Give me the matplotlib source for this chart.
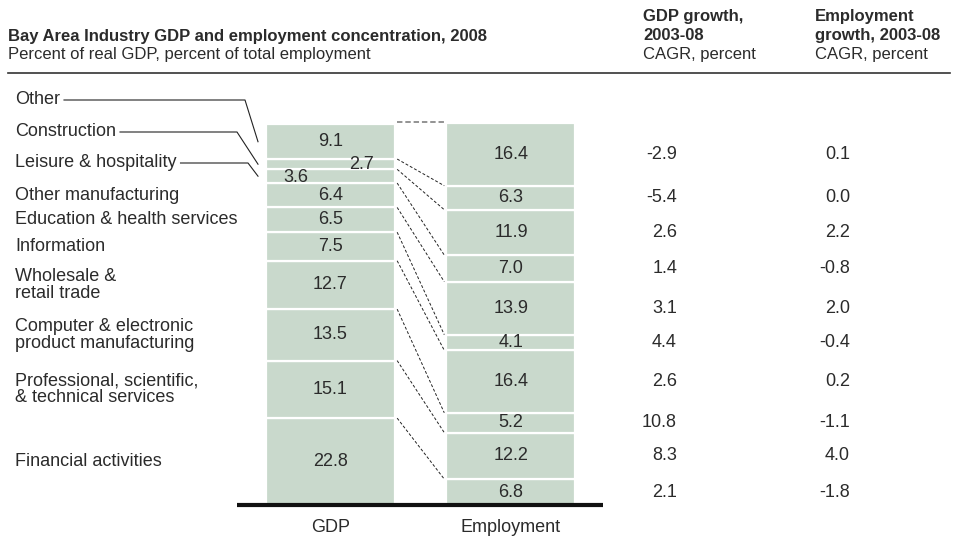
import matplotlib.pyplot as plt
import matplotlib.transforms as mtransforms
import numpy as np

plt.rcParams['font.family'] = ['Liberation Sans', 'DejaVu Sans']

# industries, bottom to top
industries = ["Financial activities",
              "Professional, scientific,\n& technical services",
              "Computer & electronic\nproduct manufacturing",
              "Wholesale &\nretail trade",
              "Information",
              "Education & health services",
              "Other manufacturing",
              "Leisure & hospitality",
              "Construction",
              "Other"]
gdp_share = [22.8, 15.1, 13.5, 12.7, 7.5, 6.5, 6.4, 3.6, 2.7, 9.1]
emp_share = [6.8, 12.2, 5.2, 16.4, 4.1, 13.9, 7.0, 11.9, 6.3, 16.4]
gdp_growth = [2.1, 8.3, 10.8, 2.6, 4.4, 3.1, 1.4, 2.6, -5.4, -2.9]
emp_growth = [-1.8, 4.0, -1.1, 0.2, -0.4, 2.0, -0.8, 2.2, 0.0, 0.1]
bar_names = ["GDP", "Employment"]

W, H = 955, 538
bar_col = "#c9d9cc"
txt = "#2b2b2b"
fs = 13
fs_head = 12

fig = plt.figure(figsize=(W / 100, H / 100), dpi=100)

def fx(px):
    return px / W

def fy(py):
    return 1 - py / H

# axes holds the two bars: spans baseline width, 0..100 vertically
ax = fig.add_axes([fx(237), fy(505), fx(603 - 237), (505 - 124) / H])
ax.set_xlim(-0.518, 1.51)
ax.set_ylim(0, 100)
ax.axis("off")

width = 0.715
gdp_bottom = np.concatenate([[0], np.cumsum(gdp_share)[:-1]])
emp_bottom = np.concatenate([[0], np.cumsum(emp_share)[:-1]])
gdp_top = gdp_bottom + np.array(gdp_share)
emp_top = emp_bottom + np.array(emp_share)

ax.bar(0, gdp_share, width, bottom=gdp_bottom, color=bar_col, edgecolor="white", linewidth=1.6)
ax.bar(1, emp_share, width, bottom=emp_bottom, color=bar_col, edgecolor="white", linewidth=1.6)

# value labels, small segments nudged aside
nudge = {7: (-0.19, -0.3), 8: (0.17, -0.1)}
for i, v in enumerate(gdp_share):
    dx, dy = nudge.get(i, (0, 0))
    ax.text(0 + dx, gdp_bottom[i] + v / 2 + dy, f"{v:.1f}", ha="center", va="center",
            fontsize=fs, color=txt, clip_on=False)
for i, v in enumerate(emp_share):
    ax.text(1, emp_bottom[i] + v / 2, f"{v:.1f}", ha="center", va="center",
            fontsize=fs, color=txt)

# connectors between segment tops
x0 = width / 2 + 0.012
x1 = 1 - width / 2 - 0.012
for i in range(len(gdp_share)):
    if i == len(gdp_share) - 1:
        ax.plot([x0, x1], [100.4, 100.4], color="#8a8a8a", lw=1.3,
                ls=(0, (3, 1.6)), clip_on=False)
    else:
        ax.plot([x0, x1], [gdp_top[i], emp_top[i]], color="#222222", lw=0.7,
                ls=(0, (3, 2)), clip_on=False)

# baseline
ax.plot([-0.518, 1.51], [0, 0], color="#111111", lw=3, clip_on=False,
        solid_capstyle="butt")

for i, name in enumerate(bar_names):
    ax.text(i, -5.8, name, ha="center", va="center", fontsize=fs, color=txt)

# industry labels on the left
lab_tr = mtransforms.blended_transform_factory(fig.transFigure, ax.transData)
leader = {9: 100, 8: 132, 7: 163}
leader_bend = {9: 245, 8: 237, 7: 248}
for i, name in enumerate(industries):
    mid = gdp_bottom[i] + gdp_share[i] / 2
    if i in leader:
        fig.text(fx(15), fy(leader[i]), name, ha="left", va="center", fontsize=fs,
                 color=txt)
    else:
        ax.text(fx(15), mid, name, transform=lab_tr, ha="left", va="center",
                fontsize=fs, color=txt, linespacing=0.95)

fig.canvas.draw()
inv = ax.transData.inverted()
for i, ypx in leader.items():
    mid = gdp_bottom[i] + gdp_share[i] / 2
    t = [tt for tt in fig.texts if tt.get_text() == industries[i]][0]
    bb = t.get_window_extent()
    xs_start = inv.transform((bb.x1 + 4, 0))[0]
    yline = inv.transform((0, H - ypx))[1]
    xb = inv.transform((leader_bend[i], 0))[0]
    xe = inv.transform((258, 0))[0]
    ax.plot([xs_start, xb, xe], [yline, yline, mid], color="#222222", lw=0.8,
            clip_on=False)

# growth columns
for i in range(len(emp_share)):
    mid = emp_bottom[i] + emp_share[i] / 2
    ax.text(fx(677), mid, f"{gdp_growth[i]:.1f}", transform=lab_tr, ha="right",
            va="center", fontsize=fs, color=txt)
    ax.text(fx(850), mid, f"{emp_growth[i]:.1f}", transform=lab_tr, ha="right",
            va="center", fontsize=fs, color=txt)

# header
fig.text(fx(8), fy(36), "Bay Area Industry GDP and employment concentration, 2008",
         fontsize=fs_head, fontweight="bold", color=txt, va="center")
fig.text(fx(8), fy(54), "Percent of real GDP, percent of total employment",
         fontsize=fs_head, color=txt, va="center")
heads = [(643, ["GDP growth,", "2003-08", "CAGR, percent"]),
         (815, ["Employment", "growth, 2003-08", "CAGR, percent"])]
for xh, lines in heads:
    for k, s in enumerate(lines):
        fig.text(fx(xh), fy(17 + 18.5 * k), s, fontsize=fs_head, color=txt, va="center",
                 fontweight="bold" if k < 2 else "normal")
fig.add_artist(plt.Line2D([fx(8), fx(950)], [fy(73), fy(73)], color="#333333", lw=1.2))

fig.savefig("out.png", dpi=100)
